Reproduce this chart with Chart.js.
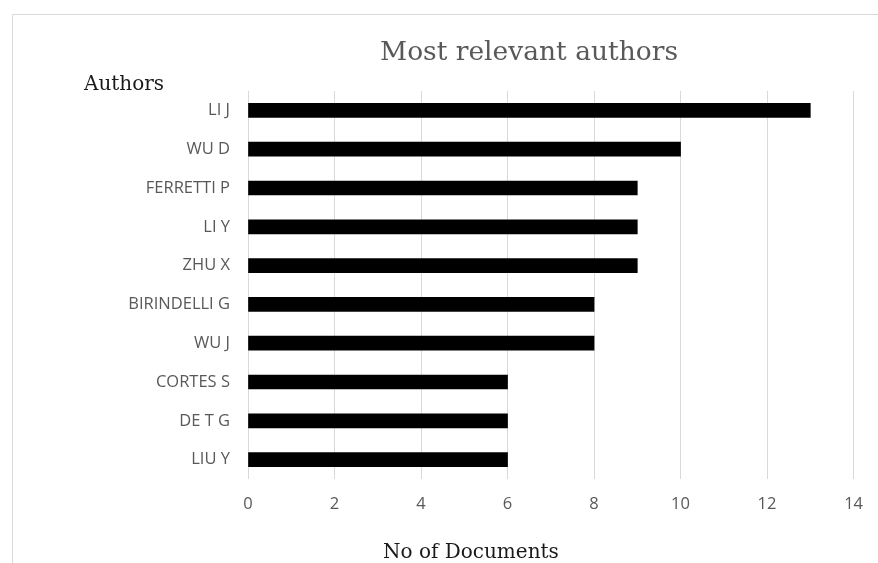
<!DOCTYPE html>
<html>
<head>
<meta charset="utf-8">
<script src="https://cdn.jsdelivr.net/npm/chart.js@4.4.1/dist/chart.umd.min.js"></script>
<style>
  html, body { margin: 0; padding: 0; background: #ffffff; }
  #wrap { position: relative; width: 878px; height: 563px; }
</style>
</head>
<body>
<div id="wrap"><canvas id="chart" width="878" height="563"></canvas></div>
<script>
// Authors ranked by number of documents
const authors = ["LI J", "WU D", "FERRETTI P", "LI Y", "ZHU X", "BIRINDELLI G", "WU J", "CORTES S", "DE T G", "LIU Y"];
const documents = [13, 10, 9, 9, 9, 8, 8, 6, 6, 6];
const xTicks = [0, 2, 4, 6, 8, 10, 12, 14];

const chartTitle = "Most relevant authors";
const yAxisTitle = "Authors";
const xAxisTitle = "No of Documents";

const tickFont = { family: "'Open Sans', sans-serif", size: 16.5 };
const serif = "'DejaVu Serif', serif";

// Frame lines and the three serif captions
const captions = {
  id: "captions",
  beforeDraw(chart) {
    const ctx = chart.ctx;
    ctx.save();
    ctx.strokeStyle = "#d9d9d9";
    ctx.lineWidth = 1;
    ctx.beginPath();
    ctx.moveTo(12.5, chart.height);
    ctx.lineTo(12.5, 14.5);
    ctx.lineTo(chart.width, 14.5);
    ctx.stroke();
    ctx.restore();
  },
  afterDraw(chart) {
    const ctx = chart.ctx;
    ctx.save();
    ctx.textBaseline = "alphabetic";

    ctx.fillStyle = "#595959";
    ctx.font = "26.5px " + serif;
    ctx.textAlign = "center";
    ctx.fillText(chartTitle, 529, 60);

    ctx.fillStyle = "#1a1a1a";
    ctx.font = "20px " + serif;
    ctx.textAlign = "left";
    ctx.fillText(yAxisTitle, 84, 90);
    ctx.fillText(xAxisTitle, 383, 558);
    ctx.restore();
  }
};

new Chart(document.getElementById("chart"), {
  type: "bar",
  data: {
    labels: authors,
    datasets: [{
      data: documents,
      backgroundColor: "#000000",
      borderWidth: 0,
      barThickness: 14
    }]
  },
  options: {
    indexAxis: "y",
    responsive: false,
    maintainAspectRatio: false,
    animation: false,
    layout: { padding: { left: 0, top: 91, right: 24, bottom: 0 } },
    plugins: {
      legend: { display: false },
      title: { display: false },
      tooltip: { enabled: false }
    },
    scales: {
      x: {
        min: 0,
        max: 14,
        afterBuildTicks(scale) { scale.ticks = xTicks.map(v => ({ value: v })); },
        afterFit(scale) { scale.height = 84; },
        grid: { color: "#d9d9d9", lineWidth: 1, drawTicks: false },
        border: { display: false },
        ticks: { color: "#595959", font: tickFont, padding: 15 }
      },
      y: {
        afterFit(scale) { scale.width = 248; },
        grid: { display: false, drawTicks: false },
        border: { display: false },
        ticks: { color: "#595959", font: tickFont, padding: 18 }
      }
    }
  },
  plugins: [captions]
});
</script>
</body>
</html>
